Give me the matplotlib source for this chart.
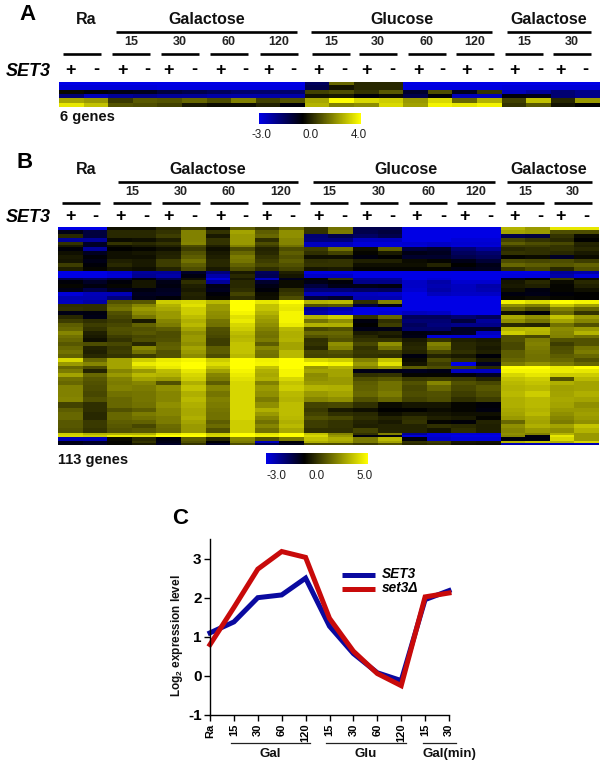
import numpy as np
import matplotlib
matplotlib.use("Agg")
import matplotlib.pyplot as plt
from matplotlib.colors import LinearSegmentedColormap, TwoSlopeNorm

plt.rcParams['font.family'] = ['Liberation Sans', 'DejaVu Sans']
plt.rcParams['mathtext.fontset'] = 'custom'
plt.rcParams['mathtext.rm'] = 'Liberation Sans'
plt.rcParams['mathtext.it'] = 'Liberation Sans:italic'
plt.rcParams['mathtext.bf'] = 'Liberation Sans:bold'

W, H = 604, 767

# ---------- data ----------
panel_a = [
 [-3,-3,-3,-3,-3,-3,-3,-3,-3,-3, -1.2,1.6,.6,.6,-3,-3,-3,-3,-3,-3,-3,-3],
 [-2.8,-2.8,-2.8,-2.8,-2.9,-2.9,-2.9,-2.9,-2.9,-2.9, -1,.3,.6,.6,-2.9,-2.9,-2.9,-2.9,-2.8,-2.8,-2.8,-2.8],
 [.1,-.1,-.3,-.4,-.8,-1,-1.2,-1.4,-1.4,-1.4, 1,1.2,.8,1.4,-.6,1.2,-.4,.8,-2.4,-2,-1.5,-1.8],
 [-1.5,-2.4,-2,-1.8,-2,-2,-2.2,-2.2,-2.2,-2.2, .3,.4,-.1,.2,-1,-.1,-2.4,-2.4,-.1,-.3,-1.5,-1.8],
 [2.6,2.4,.9,1.4,1.3,1.6,1.2,2,1,1.3, 2.6,4,3.4,3.2,2.4,3.4,1.6,2.8,1,3,.6,2.4],
 [3.6,3,1.3,1.2,1,.4,.2,.2,.5,-.1, 2.8,2,2.2,3.4,2.5,3.8,3.6,3.8,.8,1.4,.3,0],
]

panel_b_counts = [2,2,2,2,2,1, 2,2,2,2,2,2, 2,2,1, 2,2,2,2,2,
                  2,2,2,2,2,2,2,2,2, 2,2,2,2,2,2, 2,
                  2,2,2,2,2,2, 3,3, 3,3,2,2,2,2,2,3, 1,1,2,1,1]
panel_b = [
 [-3,-3,.3,.3,.8,1.2,.2,1.8,1.2,2,1,2.2,-1,-1,-3,-3,-3,-3,3.5,3,4.5,4.5],
 [-.3,-.8,.8,.8,1,2.5,1,3.2,1.8,2.8,1,2.4,-1,-.8,-3,-3,-3,-3,3.2,3,1.5,1.5],
 [.8,-.8,.8,.8,1.2,2.5,.5,3,2,2.8,-1.5,-1,-1.3,-1,-3,-3,-3,-3,-1,-.8,1,.2],
 [-2,-2,.2,.3,.6,2.5,1,3,.9,2.6,-1.6,-1.6,-2.5,-2.5,-3,-3,-2.8,-2.8,1.3,1,.8,0],
 [1,-.5,1,.8,1,2.6,1,3,1.5,2.6,-2.5,-2.5,-2.8,-2.8,-2.7,-2.6,-2.7,-2.7,1.8,1.5,1.4,.7],
 [.5,-.5,.3,.5,.7,1.5,.6,2.5,1.2,2.2,-2.5,-2.5,-2.8,-2.8,-2.8,-2.6,-2.8,-2.8,1.2,1.2,1,.6],
 [-.1,-2,0,.1,.3,1.2,.3,1.5,.7,1.5,1.2,2.2,.3,1.8,-.8,-.6,-1.5,-2,.8,.9,1,.8],
 [.3,-.4,.3,.4,.6,1.6,.5,2,.8,1.8,.9,1.3,.1,.5,-.3,-.4,-1.2,-1.4,1,.9,.8,.5],
 [.5,-.1,.3,.3,.7,1.8,.6,2.4,1,1.6,.3,.3,-.2,0,-.6,-.6,-1,-1.2,.1,.2,-.5,.2],
 [.4,-.3,.6,.5,1.2,2.2,.8,2.3,1.2,1.8,.9,1,.6,.6,.2,.1,-.3,-.7,1.5,1.4,1.5,1.2],
 [1.2,-.1,.8,.5,1.2,1.8,.8,1.9,1.4,1.6,1,1,.3,.3,.3,.7,0,-.3,2,1.8,1.7,1.9],
 [.6,.1,.4,.3,.7,1.5,.5,1.5,.9,1.3,.4,.5,.1,.1,.1,.1,-.3,-.4,1,1.4,.8,1.6],
 [-3,-3,-2.7,-2,-2,-.5,-1.6,.5,-1.2,.6,-2.9,-2.9,-3,-3,-3,-3,-3,-3,-3,-3,-2,-2.2],
 [-3,-3,-2.8,-1.9,-2.2,-.2,-2.2,.8,-1.1,.4,-2.6,-2.6,-3,-3,-3,-3,-3,-3,-2.9,-2.9,-2.2,-2.8],
 [-1,-1.2,-.8,-.2,-1,.3,-2.9,.5,-2.5,-.4,.1,1,-2,-2,-3,-2.8,-3,-3,-.4,0,1.2,.2],
 [-.1,-.5,-.1,.4,-.3,.9,-2,.8,-.6,.2,-.3,-.1,-1.8,-1.8,-2.6,-2.2,-2.7,-2.7,.4,.8,.2,.8],
 [.1,-.2,.1,.4,-.2,.6,-.3,.8,-.3,.2,-.8,-.3,-.3,-.2,-2.6,-2.3,-2.5,-2.2,.5,.6,.1,.6],
 [-.3,-.9,-.4,-.2,-.4,.5,-.4,.9,-.1,.9,-1.5,-1.5,-1.3,-1.2,-2.7,-2.2,-2.5,-2.3,.3,-.2,.1,.3],
 [-2.8,-2.4,-2.4,-.4,-.5,.7,-.1,1.3,.2,1.1,-2.4,-2.4,-2.5,-2.6,-3,-2.5,-2.6,-2.6,-.2,-.3,-.1,0],
 [-2.3,-2.3,-1.6,-.3,-.1,.6,.1,.9,.3,1.5,-.8,-.6,-2.3,-2.3,-3,-3,-3,-3,.1,.2,.1,0],
 [-2.5,-2.2,1.6,1.7,4,4.2,3.6,5,4.5,5,3.5,3.6,.9,2.5,-3,-3,-3,-3,4.7,4.3,5,4.8],
 [.9,.9,2,2.6,3.5,4.4,3,5,3.8,4.6,1.6,1.7,-.8,-.3,-3,-3,-3,-3,2.8,2.5,3.8,3.2],
 [1,.9,2.2,3,3.3,4,3,5,3.8,4.5,-2,-2.3,-3,-3,-3,-3,-3,-3,2,1.5,2.5,2],
 [-.3,-.2,1.6,2.7,3,4,2.8,4.8,3.5,4.8,-2.2,-2.6,-3,-2.8,-2.5,-2.6,-3,-3,.3,-.1,2,1],
 [.8,-.3,1.4,2.3,3,3.7,2.7,4.4,3.2,4.8,3.5,4,1,2,-1.2,-1.2,-1.5,-1.2,3.3,2.8,3.8,3],
 [1.2,.9,1.2,.5,2.6,3.4,2.3,4.6,3,4.8,2.3,2.8,-.2,.9,-1.5,-1.5,-.8,-2,2.8,2.3,3.2,2.6],
 [1.8,1.2,1.4,1.9,2.4,3.6,2.2,4.2,2.8,4.6,3.5,3.4,0,1.2,-1.2,-1.6,-1.8,-1.8,.8,.7,2.2,1.6],
 [2,1,1.6,1.6,1.8,3.2,1.6,4,2.5,3.6,1.4,1.6,-.3,-.3,-1.4,-1.4,-.5,-.5,3.5,3.6,2.7,3],
 [2.6,.6,1.5,1.7,1.5,2.8,1.5,3.7,2.3,3.4,2,2,.5,.6,-.2,-.3,-.5,-2.5,4,3.5,2.6,3.5],
 [2.2,.5,1.2,1.4,1.5,3,1.4,3.5,2.2,3.4,1.6,1.8,.8,.4,-.3,-2.8,-2.7,-2.8,1.6,1.4,2.5,2.2],
 [2,.3,1,1.5,1.6,3,1.2,3.6,2.4,3.5,.9,1.6,1,1,.5,1,.6,.5,1.6,2.4,1.6,1.6],
 [1.7,1.5,1.4,.8,1.8,2.8,1.2,3.8,1.8,3.2,1,2.8,1.4,2.8,.7,2.5,.8,.6,1.4,2.5,1.2,1.6],
 [2,.7,1.1,2.6,1.9,3.2,1.8,3.8,2.6,3.2,.8,2.5,1,2.2,.8,2.2,.8,.5,1.4,2.4,1.5,2.2],
 [2.2,.6,1.2,2.2,1.6,3,1.8,3.8,2.3,3.6,1.4,1.6,1.1,1.2,.7,1.4,.9,.6,1.8,2.3,1.6,2.4],
 [1.9,.8,1,1.2,1.6,2.7,1.5,3.6,2.2,3.6,1.3,1.4,1,.9,-.2,.7,.5,-.1,1.8,2.2,1.8,2],
 [4.2,2,3.2,4,4.6,4.8,4,5,4.7,5,4.2,4,2.5,3.8,.2,1.5,1,.5,2,2.2,2,1.6],
 [3,2.6,3.2,4.6,4.8,5,4.3,5,4.8,5,5,4.8,3,4.4,.4,1.2,-3,-.5,2.4,2.8,2.4,2],
 [2,1.5,3.2,4,4.6,5,3.8,5,3.8,5,3,3.5,2.5,3,1.8,1.5,1.3,.8,5,5,4.6,5],
 [2.4,.7,2.6,3,3.7,4.5,3.2,4.8,3.4,4.8,3.2,3.2,-.3,-.3,-.4,-.3,-2.5,-2.5,4.8,4.8,4.6,4.5],
 [3.2,2,3,3.6,3.5,4.2,2.6,4.6,3.3,4.8,2.7,3.2,.9,1,.1,.1,-.2,-.5,4.2,4.5,4,4],
 [2.2,1.7,2.5,3.2,3,4,2.4,4.4,3.4,4.2,2.8,3,1.5,1.7,1.1,1.2,1.1,.7,3.8,4,1.6,3.6],
 [2,1.6,2.4,2.6,1.6,3.4,1.8,4.2,2.5,3.8,3,3,1.8,2.2,1.6,2.6,1.6,1.4,3.6,3.8,3.4,3.2],
 [2.5,1.5,2.5,2.4,2.8,3.8,2.6,4.2,3,4,3.5,3.4,1.9,2.2,1.4,2,1.4,1.7,3.5,3.6,3.1,3.2],
 [2.5,1.4,2.2,2.3,2.6,3.4,2.3,4.2,2.8,3.6,3,3.2,2,2.4,1.5,1.6,1.2,1.5,3.6,4,3.2,3.4],
 [2.6,1.6,2,2.3,2.6,3.6,2.5,4.2,2.4,3.5,2.6,2.8,1.6,2,1.3,1.5,.9,1.2,3.4,3.6,3.3,3.2],
 [1.3,.9,2,2.2,2.8,3.4,2.4,4.2,2.8,3.7,1.3,1.4,.9,.2,.4,.4,.1,-.1,3.4,3.6,3.2,2.8],
 [1.8,.9,1.6,1.8,2.6,3.3,2.3,4.2,3.4,3.7,1.1,.5,.3,0,0,.2,.1,-.2,3.3,3.5,3,3],
 [2,.8,2,2.4,2.6,3.3,2.2,4.2,3,3.7,1.3,.9,.8,.3,.5,.4,.3,.3,3.2,3.6,2.8,3.1],
 [2,.8,2,2.2,2.4,3.4,2.2,4.2,2.6,3.6,1.6,1.4,.9,.7,.9,.6,.5,.1,3,3.3,2.6,3],
 [1.7,1.1,1.8,1.9,2.4,3.2,1.8,4,2.2,3.4,1.2,1,.7,.5,1,.1,-.1,.7,2,3.2,2.4,2.8],
 [1.7,1.1,1.7,1.4,2.1,3,2.1,4,2.6,3.6,1.2,1,.6,.7,.7,.9,.8,.6,2.8,3.4,3.2,3.8],
 [1.6,1,1.6,1.7,2,3,1.6,4,2.2,3.3,.9,.9,1.3,.7,.7,.4,.9,.6,2.6,3,2.8,3.5],
 [4,3.5,3.5,3.5,4.5,4.8,4,5,4.5,5,3.8,2.6,1,2.5,-2,-2.8,-2.8,-2.8,2.8,2.5,3.5,3],
 [4.2,4,4.6,4.4,5,5,4.2,5,4.7,5,4.2,3,-.2,-.2,-2.8,-2.8,-3,-3,2.6,-.2,4.5,3],
 [-2.3,-2.3,.2,.8,-.2,1.8,.8,2.6,1.6,2.4,3.8,3.4,2.4,3.6,-.2,-2.6,-2.8,-2.8,-.2,-.2,4.2,3],
 [-.3,-.5,.1,1,-.3,1.6,0,2.4,-2.4,-.1,3.4,3.2,2.4,3.2,1,1.2,.5,.4,3.5,3.8,3.4,4.2],
 [-.3,-.5,.1,.5,-.5,1,-.5,1.5,-1,-.3,1.5,1.5,1.2,1.6,.8,.9,.3,.2,-2.3,-2.3,-2.3,-2.3],
]

time_labels = ['Ra','15','30','60','120','15','30','60','120','15','30']
set3_values = [1.1,1.38,2.0,2.07,2.5,1.27,.57,.08,-.12,1.95,2.18]
set3d_values = [.8,1.75,2.73,3.18,3.03,1.47,.63,.06,-.25,2.02,2.12]
y_ticks = [-1,0,1,2,3]

group_names = ['Galactose','Glucose','Galactose']
time_names = ['15','30','60','120','15','30','60','120','15','30']
signs = ['+','-']

# ---------- helpers ----------
cmap = LinearSegmentedColormap.from_list('by', [(0,0,.9),(0,0,0),(1,1,0)])
fig = plt.figure(figsize=(W/100, H/100), dpi=100)

def box(x0, y0, x1, y1):
    return [x0/W, 1-y1/H, (x1-x0)/W, (y1-y0)/H]

ov = fig.add_axes([0,0,1,1], zorder=5)
ov.set_xlim(0, W); ov.set_ylim(H, 0); ov.axis('off'); ov.patch.set_alpha(0)

def heat(data, x0, y0, x1, y1, vmax):
    ax = fig.add_axes(box(x0,y0,x1,y1))
    ax.imshow(np.asarray(data,float), cmap=cmap, aspect='auto', interpolation='nearest',
              norm=TwoSlopeNorm(vmin=-3, vcenter=0, vmax=vmax))
    ax.axis('off')

def cbar(x0, y0, x1, y1, vmax, labels, ly):
    ax = fig.add_axes(box(x0,y0,x1,y1))
    vals = np.linspace(-3, vmax, 256)[None, :]
    ax.imshow(vals, cmap=cmap, aspect='auto', norm=TwoSlopeNorm(vmin=-3, vcenter=0, vmax=vmax))
    ax.axis('off')
    for lx, s in labels:
        ov.text(lx, ly, s, ha='center', va='center', fontsize=8.4, color='#222222')

def header(ra_y, grp_y, lab_y, sub_y, sign_y, set_y, xs_sub, xs_sign, xs_grp, xs_lab):
    ov.text(86, ra_y, 'Ra', ha='center', va='center', fontsize=11.5, fontweight='bold', color='#111111')
    for (a, b), name, cx in zip(xs_grp, group_names, xs_lab):
        ov.plot([a, b], [grp_y, grp_y], color='k', lw=1.9, solid_capstyle='butt')
        ov.text(cx, ra_y, name, ha='center', va='center', fontsize=11.5, fontweight='bold', color='#111111')
    for i, (a, b) in enumerate(xs_sub):
        ov.plot([a, b], [sub_y, sub_y], color='k', lw=1.9, solid_capstyle='butt')
        if i > 0:
            ov.text((a+b)/2, lab_y, time_names[i-1], ha='center', va='center', fontsize=9,
                    fontweight='bold', color='#222222')
    for i, x in enumerate(xs_sign):
        ov.text(x, sign_y, signs[i % 2], ha='center', va='center', fontsize=13, fontweight='bold', color='k')
    ov.text(5.5, set_y, 'SET3', ha='left', va='center', fontsize=13, fontweight='bold', style='italic', color='k')

sub_a = [(63,101),(112,150),(161,199),(210,248),(260,298),(312,350),(359,397),(408,446),(456,494),(505,543),(553,591)]
sign_a = [70,96,122,147,169,194,221,245,268,293,318,344,367,392,418,442,466,490,515,540,560,585]
sub_b = [(62,100),(113,151),(162,200),(210,248),(262,300),(310,348),(360,398),(409,447),(457,495),(506,544),(554,592)]
sign_b = [71,95,121,146,169,194,220,245,267,292,319,344,367,392,417,443,465,490,515,540,561,586]
grp_a = [(116,297),(311,492),(507,591)]
grp_b = [(118,298),(313,495),(507,592)]

# ---------- panel A ----------
ov.text(27, 15, 'A', ha='center', va='center', fontsize=16, fontweight='bold')
header(19.5, 32, 42, 53.5, 70, 71, sub_a, sign_a, grp_a, [207,402,549])
heat(panel_a, 58.5, 81.5, 599, 107, 4)
ov.text(60, 117, '6 genes', ha='left', va='center', fontsize=10.5, fontweight='bold', color='#111111')
cbar(259, 113, 361, 124, 4, [(261,'-3.0'),(311,'0.0'),(359,'4.0')], 135)

# ---------- panel B ----------
ov.text(25, 162, 'B', ha='center', va='center', fontsize=16, fontweight='bold')
header(170, 182, 192, 203, 216.5, 217, sub_b, sign_b, grp_b, [208,406,549])
heat(np.repeat(np.asarray(panel_b), panel_b_counts, axis=0), 58, 227, 599, 445, 5)
ov.text(58, 460, '113 genes', ha='left', va='center', fontsize=10.5, fontweight='bold', color='#111111')
cbar(266, 453, 368, 464, 5, [(276,'-3.0'),(317,'0.0'),(365,'5.0')], 476)

# ---------- panel C ----------
ov.text(180, 518, 'C', ha='center', va='center', fontsize=16, fontweight='bold')
ax = fig.add_axes(box(210, 539, 449, 715), zorder=6)
ax.patch.set_alpha(0)
xs = np.arange(len(time_labels))
ax.plot(xs, set3_values, color='#0a0aa0', lw=3.6, solid_joinstyle='miter', clip_on=False)
ax.plot(xs, set3d_values, color='#c80a0a', lw=3.6, solid_joinstyle='miter', clip_on=False)
ax.set_xlim(0, 10); ax.set_ylim(-1, 3.5)
for s in ('top','right'):
    ax.spines[s].set_visible(False)
for s in ('left','bottom'):
    ax.spines[s].set_linewidth(1.0)
ax.set_yticks(y_ticks)
ax.set_yticklabels([str(v) for v in y_ticks], fontsize=11, fontweight='bold')
ax.set_xticks(xs)
ax.set_xticklabels(time_labels, rotation=90, fontsize=8, fontweight='bold')
ax.tick_params(axis='both', direction='out', length=4, width=1, pad=2)
ov.text(177, 636, r'Log$\mathbf{_2}$ expression level', rotation=90, ha='center', va='center',
        fontsize=8.5, fontweight='bold', color='#111111')
for (a, b) in [(231,310),(326,406),(423,456)]:
    ov.plot([a,b],[743,743], color='#222222', lw=0.9)
for cx, s in [(270,'Gal'),(366,'Glu'),(449,'Gal(min)')]:
    ov.text(cx, 754, s, ha='center', va='center', fontsize=9.5, fontweight='bold', color='#111111')
ov.plot([342,375],[574.5,574.5], color='#0a0aa0', lw=3.6, solid_capstyle='butt')
ov.plot([342,375],[588.5,588.5], color='#c80a0a', lw=3.6, solid_capstyle='butt')
ov.text(382, 574.5, 'SET3', ha='left', va='center', fontsize=9.8, fontweight='bold', style='italic')
ov.text(382, 588.5, 'set3\u0394', ha='left', va='center', fontsize=9.8, fontweight='bold', style='italic')

fig.savefig('out.png', dpi=100)
